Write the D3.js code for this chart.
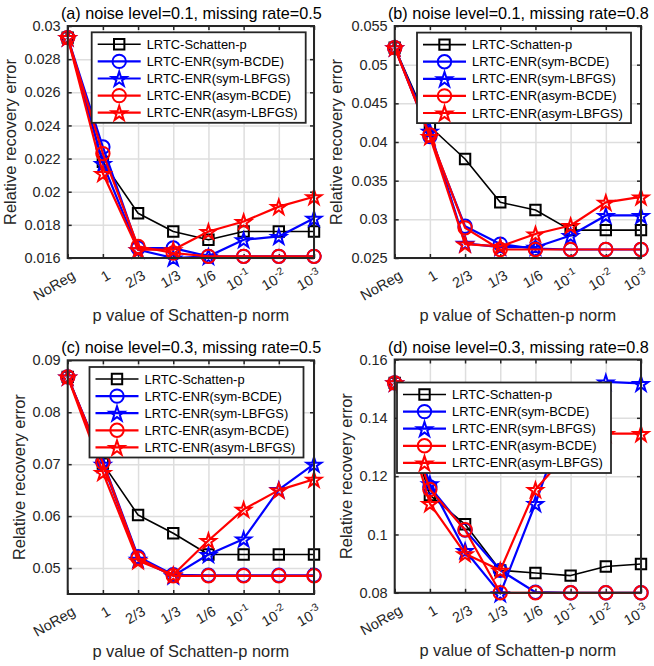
<!DOCTYPE html>
<html><head><meta charset="utf-8">
<script src="https://cdn.jsdelivr.net/npm/d3@7"></script>
<style>
body{margin:0;background:#fff;}
svg{display:block;}
text{font-family:"Liberation Sans",Arial,Helvetica,sans-serif;}
</style>
</head><body>
<svg id="chart" width="654" height="666"></svg>
<script>
// ---------- data ----------
const categories = ["NoReg","1","2/3","1/3","1/6","10^-1","10^-2","10^-3"];
const seriesNames = ["LRTC-Schatten-p","LRTC-ENR(sym-BCDE)","LRTC-ENR(sym-LBFGS)","LRTC-ENR(asym-BCDE)","LRTC-ENR(asym-LBFGS)"];
const seriesColors = ["#000000","#0000ff","#0000ff","#ff0000","#ff0000"];
const seriesMarkers = ["square","circle","star","circle","star"];
const panelTitles = [
  "(a) noise level=0.1, missing rate=0.5",
  "(b) noise level=0.1, missing rate=0.8",
  "(c) noise level=0.3, missing rate=0.5",
  "(d) noise level=0.3, missing rate=0.8"
];
const xLabelText = "p value of Schatten-p norm";
const yLabelText = "Relative recovery error";

// panel (a)
const aSchatten  = [0.0293, 0.0218, 0.0187, 0.0176, 0.0171, 0.0176, 0.0176, 0.0176];
const aSymBCDE   = [0.0293, 0.0227, 0.0166, 0.0166, 0.0161, 0.0161, 0.0161, 0.0161];
const aSymLBFGS  = [0.0293, 0.0217, 0.0165, 0.0160, 0.0161, 0.0171, 0.0173, 0.0184];
const aAsymBCDE  = [0.0293, 0.0223, 0.0167, 0.0163, 0.0161, 0.0161, 0.0161, 0.0161];
const aAsymLBFGS = [0.0293, 0.0211, 0.0165, 0.0165, 0.0176, 0.0182, 0.0191, 0.0197];
const aYDomain = [0.016, 0.03];
const aYTicks = [0.016, 0.018, 0.020, 0.022, 0.024, 0.026, 0.028, 0.030];
const aYTickLabels = ["0.016","0.018","0.02","0.022","0.024","0.026","0.028","0.03"];

// panel (b)
const bSchatten  = [0.0522, 0.0420, 0.0378, 0.0322, 0.0312, 0.0286, 0.0286, 0.0286];
const bSymBCDE   = [0.0522, 0.0407, 0.0291, 0.0268, 0.0262, 0.0261, 0.0261, 0.0261];
const bSymLBFGS  = [0.0522, 0.0414, 0.0269, 0.0264, 0.0264, 0.0279, 0.0305, 0.0305];
const bAsymBCDE  = [0.0522, 0.0409, 0.0289, 0.0261, 0.0261, 0.0261, 0.0261, 0.0261];
const bAsymLBFGS = [0.0522, 0.0407, 0.0268, 0.0265, 0.0281, 0.0292, 0.0322, 0.0329];
const bYDomain = [0.025, 0.055];
const bYTicks = [0.025, 0.030, 0.035, 0.040, 0.045, 0.050, 0.055];
const bYTickLabels = ["0.025","0.03","0.035","0.04","0.045","0.05","0.055"];

// panel (c)
const cSchatten  = [0.0868, 0.0701, 0.0602, 0.0567, 0.0526, 0.0526, 0.0526, 0.0526];
const cSymBCDE   = [0.0868, 0.0705, 0.0522, 0.0487, 0.0486, 0.0486, 0.0486, 0.0486];
const cSymLBFGS  = [0.0868, 0.0700, 0.0517, 0.0485, 0.0526, 0.0556, 0.0651, 0.0700];
const cAsymBCDE  = [0.0868, 0.0703, 0.0519, 0.0485, 0.0485, 0.0485, 0.0485, 0.0485];
const cAsymLBFGS = [0.0868, 0.0684, 0.0514, 0.0487, 0.0553, 0.0613, 0.0650, 0.0671];
const cYDomain = [0.045, 0.09];
const cYTicks = [0.05, 0.06, 0.07, 0.08, 0.09];
const cYTickLabels = ["0.05","0.06","0.07","0.08","0.09"];

// panel (d)
const dSchatten  = [0.1520, 0.1135, 0.1035, 0.0877, 0.0868, 0.0859, 0.0890, 0.0899];
const dSymBCDE   = [0.1520, 0.1163, 0.1015, 0.0877, 0.0802, 0.0800, 0.0800, 0.0800];
const dSymLBFGS  = [0.1520, 0.1174, 0.0945, 0.0797, 0.1106, 0.1450, 0.1523, 0.1518];
const dAsymBCDE  = [0.1520, 0.1154, 0.1016, 0.0800, 0.0800, 0.0800, 0.0800, 0.0800];
const dAsymLBFGS = [0.1520, 0.1106, 0.0934, 0.0877, 0.1154, 0.1290, 0.1346, 0.1346];
const dYDomain = [0.08, 0.16];
const dYTicks = [0.08, 0.10, 0.12, 0.14, 0.16];
const dYTickLabels = ["0.08","0.1","0.12","0.14","0.16"];

// ---------- layout ----------
const panels = [
  {title: panelTitles[0], series: [aSchatten,aSymBCDE,aSymLBFGS,aAsymBCDE,aAsymLBFGS], yDomain: aYDomain, yTicks: aYTicks, yTickLabels: aYTickLabels,
   box: {l: 67.7, r: 314, t: 26, b: 258}, yLabelOff: 52, legend: {x: 91.7, y: 32.3}},
  {title: panelTitles[1], series: [bSchatten,bSymBCDE,bSymLBFGS,bAsymBCDE,bAsymLBFGS], yDomain: bYDomain, yTicks: bYTicks, yTickLabels: bYTickLabels,
   box: {l: 394.7, r: 641, t: 26, b: 258}, yLabelOff: 53, legend: {x: 417, y: 32.6}},
  {title: panelTitles[2], series: [cSchatten,cSymBCDE,cSymLBFGS,cAsymBCDE,cAsymLBFGS], yDomain: cYDomain, yTicks: cYTicks, yTickLabels: cYTickLabels,
   box: {l: 67.7, r: 314, t: 360.3, b: 594}, yLabelOff: 43.2, legend: {x: 89.5, y: 367}},
  {title: panelTitles[3], series: [dSchatten,dSymBCDE,dSymLBFGS,dAsymBCDE,dAsymLBFGS], yDomain: dYDomain, yTicks: dYTicks, yTickLabels: dYTickLabels,
   box: {l: 394.7, r: 641, t: 359.5, b: 592.8}, yLabelOff: 43.2, legend: {x: 397, y: 382.5}}
];

const svg = d3.select("#chart");
const axisColor = "#262626";
const gridColor = "#dedede";
const tickFont = 14.5, labelFont = 16.4, titleFont = 16.2, legendFont = 12.9;

function markerPath(type){
  if(type === "square"){ const s = 5.2; return `M${-s},${-s}H${s}V${s}H${-s}Z`; }
  if(type === "circle"){ const r = 6.7; return `M${r},0A${r},${r} 0 1,1 ${-r},0A${r},${r} 0 1,1 ${r},0Z`; }
  // pentagram
  const R = 7.8, ri = R * 0.382; let p = "";
  for(let k = 0; k < 10; k++){
    const ang = -Math.PI/2 + k * Math.PI/5;
    const rr = (k % 2 === 0) ? R : ri;
    p += (k === 0 ? "M" : "L") + (rr*Math.cos(ang)).toFixed(2) + "," + (rr*Math.sin(ang) + 0.9).toFixed(2);
  }
  return p + "Z";
}
const lineWidths = [1.6, 2.2, 2.2, 2.2, 2.2];
const markerWidths = [2, 2, 2, 2, 2];

function addLabelWithSup(sel, label){
  if(label.indexOf("^") >= 0){
    const parts = label.split("^");
    sel.append("tspan").text(parts[0]);
    sel.append("tspan").attr("dy", "-0.5em").attr("font-size", "0.72em").text(parts[1]);
  } else {
    sel.text(label);
  }
}

panels.forEach(P => {
  const g = svg.append("g");
  const B = P.box;
  const x = d3.scalePoint().domain(categories).range([B.l, B.r]).padding(0);
  const y = d3.scaleLinear().domain(P.yDomain).range([B.b, B.t]);

  g.append("rect").attr("x", B.l).attr("y", B.t).attr("width", B.r - B.l).attr("height", B.b - B.t).attr("fill", "#fff");

  // grid
  const gx = d3.axisBottom(x).tickSize(-(B.b - B.t)).tickFormat("");
  g.append("g").attr("transform", `translate(0,${B.b})`).call(gx)
    .call(s => { s.select(".domain").remove(); s.selectAll("line").attr("stroke", gridColor).attr("stroke-width", 1.5); });
  const gy = d3.axisLeft(y).tickValues(P.yTicks).tickSize(-(B.r - B.l)).tickFormat("");
  g.append("g").attr("transform", `translate(${B.l},0)`).call(gy)
    .call(s => { s.select(".domain").remove(); s.selectAll("line").attr("stroke", gridColor).attr("stroke-width", 1.5); });

  // inward tick marks
  const tl = 4;
  const styleTicks = s => { s.select(".domain").remove(); s.selectAll("line").attr("stroke", axisColor).attr("stroke-width", 1.5); };
  g.append("g").attr("transform", `translate(0,${B.b})`).call(d3.axisBottom(x).tickSize(-tl).tickFormat("")).call(styleTicks);
  g.append("g").attr("transform", `translate(0,${B.t})`).call(d3.axisTop(x).tickSize(-tl).tickFormat("")).call(styleTicks);
  g.append("g").attr("transform", `translate(${B.l},0)`).call(d3.axisLeft(y).tickValues(P.yTicks).tickSize(-tl).tickFormat("")).call(styleTicks);
  g.append("g").attr("transform", `translate(${B.r},0)`).call(d3.axisRight(y).tickValues(P.yTicks).tickSize(-tl).tickFormat("")).call(styleTicks);

  // y tick labels
  const yAx = d3.axisLeft(y).tickValues(P.yTicks).tickSize(0).tickPadding(7)
    .tickFormat((d, i) => P.yTickLabels[i]);
  g.append("g").attr("transform", `translate(${B.l},0)`).call(yAx)
    .call(s => {
      s.select(".domain").remove();
      s.selectAll("text").attr("font-size", tickFont).attr("fill", axisColor)
        .attr("font-family", '"Liberation Sans",Arial,sans-serif');
    });

  // x tick labels (rotated)
  const xl = g.append("g");
  categories.forEach(c => {
    const t = xl.append("text")
      .attr("transform", `translate(${x(c) + 6},${B.b + 16}) rotate(-30)`)
      .attr("text-anchor", "end").attr("dominant-baseline", "central")
      .attr("font-size", tickFont).attr("fill", axisColor);
    addLabelWithSup(t, c);
  });

  // series lines + markers
  P.series.forEach((vals, si) => {
    const line = d3.line().x((d, i) => x(categories[i])).y(d => y(d));
    g.append("path").attr("d", line(vals)).attr("fill", "none")
      .attr("stroke", seriesColors[si]).attr("stroke-width", lineWidths[si]).attr("stroke-linejoin", "round");
    g.append("g").selectAll("path").data(vals).join("path")
      .attr("d", markerPath(seriesMarkers[si]))
      .attr("transform", (d, i) => `translate(${x(categories[i])},${y(d)})`)
      .attr("fill", "none").attr("stroke", seriesColors[si]).attr("stroke-width", markerWidths[si]);
  });

  // axes box
  g.append("rect").attr("x", B.l).attr("y", B.t).attr("width", B.r - B.l).attr("height", B.b - B.t)
    .attr("fill", "none").attr("stroke", axisColor).attr("stroke-width", 2);

  // title
  g.append("text").attr("x", (B.l + B.r) / 2 + 0.5).attr("y", B.t - 7).attr("text-anchor", "middle")
    .attr("font-size", titleFont).attr("fill", "#000").text(P.title);

  // x label
  g.append("text").attr("x", (B.l + B.r) / 2).attr("y", B.b + 63).attr("text-anchor", "middle")
    .attr("font-size", labelFont).attr("fill", axisColor).text(xLabelText);

  // y label
  g.append("text").attr("transform", `translate(${B.l - P.yLabelOff},${(B.t + B.b) / 2}) rotate(-90)`)
    .attr("text-anchor", "middle").attr("font-size", labelFont).attr("fill", axisColor).text(yLabelText);

  // legend
  const L = P.legend, LW = 214, LH = 90.5;
  const lg = g.append("g");
  lg.append("rect").attr("x", L.x).attr("y", L.y).attr("width", LW).attr("height", LH)
    .attr("fill", "#fff").attr("stroke", axisColor).attr("stroke-width", 1.8);
  seriesNames.forEach((nm, si) => {
    const cy = L.y + 12 + si * 17.1;
    lg.append("line").attr("x1", L.x + 6).attr("x2", L.x + 49).attr("y1", cy).attr("y2", cy)
      .attr("stroke", seriesColors[si]).attr("stroke-width", lineWidths[si]);
    lg.append("path").attr("d", markerPath(seriesMarkers[si]))
      .attr("transform", `translate(${L.x + 27.5},${cy})`)
      .attr("fill", "none").attr("stroke", seriesColors[si]).attr("stroke-width", markerWidths[si]);
    lg.append("text").attr("x", L.x + 55).attr("y", cy).attr("dominant-baseline", "central")
      .attr("font-size", legendFont).attr("fill", "#000").text(nm);
  });
});
</script>
</body></html>
